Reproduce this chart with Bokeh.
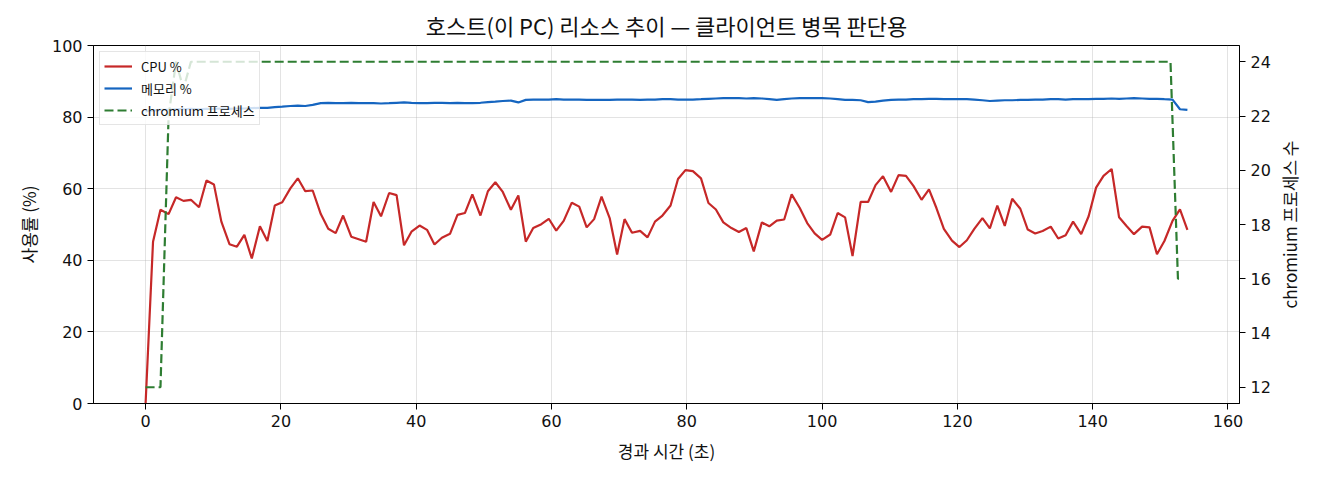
import math

from bokeh.plotting import figure
from bokeh.models import Range1d, LinearAxis, FixedTicker, Label
from bokeh.embed import file_html
from bokeh.resources import INLINE

# elapsed seconds of each host sample
elapsed = [
    0.0, 1.1, 2.2, 3.4, 4.5, 5.6, 6.7, 7.9, 9.0, 10.1, 11.2, 12.4, 13.5, 14.6, 15.7, 16.9,
    18.0, 19.1, 20.2, 21.4, 22.5, 23.6, 24.7, 25.9, 27.0, 28.1, 29.2, 30.4, 31.5, 32.6, 33.7,
    34.8, 36.0, 37.1, 38.2, 39.3, 40.5, 41.6, 42.7, 43.8, 45.0, 46.1, 47.2, 48.3, 49.5, 50.6,
    51.7, 52.8, 54.0, 55.1, 56.2, 57.3, 58.5, 59.6, 60.7, 61.8, 63.0, 64.1, 65.2, 66.3, 67.4,
    68.6, 69.7, 70.8, 71.9, 73.1, 74.2, 75.3, 76.4, 77.6, 78.7, 79.8, 80.9, 82.1, 83.2, 84.3,
    85.4, 86.6, 87.7, 88.8, 89.9, 91.1, 92.2, 93.3, 94.4, 95.5, 96.7, 97.8, 98.9, 100.0, 101.2,
    102.3, 103.4, 104.5, 105.7, 106.8, 107.9, 109.0, 110.2, 111.3, 112.4, 113.5, 114.7, 115.8,
    116.9, 118.0, 119.2, 120.3, 121.4, 122.5, 123.7, 124.8, 125.9, 127.0, 128.1, 129.3, 130.4,
    131.5, 132.6, 133.8, 134.9, 136.0, 137.1, 138.3, 139.4, 140.5, 141.6, 142.8, 143.9, 145.0,
    146.1, 147.3, 148.4, 149.5, 150.6, 151.8, 152.9, 154.0,
]

cpu_pct = [
    0.0, 45.2, 54.1, 52.9, 57.6, 56.6, 56.9, 54.8, 62.3, 61.2, 50.8, 44.5, 43.8, 47.1, 40.5, 49.5,
    45.4, 55.3, 56.2, 60.1, 62.9, 59.3, 59.5, 52.9, 48.8, 47.6, 52.5, 46.6, 45.9, 45.2, 56.3,
    52.3, 58.8, 58.2, 44.2, 48.0, 49.7, 48.5, 44.4, 46.3, 47.4, 52.7, 53.2, 58.4, 52.5, 59.3,
    61.8, 59.1, 54.1, 58.1, 45.2, 49.0, 50.1, 51.6, 48.3, 51.0, 56.1, 55.0, 49.2, 51.5,
    57.8, 51.8, 41.6, 51.5, 47.7, 48.2, 46.4, 50.8, 52.5, 55.3, 62.7, 65.2, 64.9, 62.9, 56.0,
    54.2, 50.6, 49.0, 47.9, 49.0, 42.5, 50.6, 49.5, 51.1, 51.4, 58.4, 54.6, 50.4, 47.5,
    45.7, 47.2, 53.2, 52.0, 41.2, 56.3, 56.3, 61.0, 63.5, 59.1, 63.8, 63.6, 60.8, 56.9, 59.8,
    54.6, 48.8, 45.5, 43.7, 45.6, 48.8, 51.8, 48.9, 55.3, 49.6, 57.2, 54.4, 48.6, 47.5,
    48.2, 49.4, 46.1, 47.0, 50.8, 47.3, 52.3, 60.3, 63.6, 65.5, 52.0, 49.6, 47.3, 49.4, 49.2,
    41.7, 45.4, 51.0, 54.2, 48.5,
]

mem_pct = [
    81.6, 81.9, 82.0, 82.1, 82.2, 82.2, 82.3, 82.2, 82.3, 82.3, 82.4, 82.3, 82.4, 82.4, 82.5,
    82.6, 82.6, 82.8, 82.9, 83.1, 83.2, 83.1, 83.4, 83.9,
    84.0, 83.9, 83.9, 84.0, 83.9, 83.9, 83.9, 83.8, 83.9, 84.0, 84.1, 84.0, 83.9, 83.9, 84.0,
    84.0, 83.9, 84.0, 83.9, 83.9, 84.0,
    84.2, 84.3, 84.5, 84.6, 84.1,
    84.8, 84.9, 84.9, 84.9, 85.0, 84.9, 84.9, 84.9, 84.8, 84.8,
    84.8, 84.8, 84.9, 84.9, 84.9, 84.8, 84.9, 84.9, 85.0, 85.0, 84.9, 84.9, 84.9, 85.0,
    85.1, 85.2, 85.3, 85.3, 85.3, 85.2, 85.3,
    85.2, 85.0, 84.8, 85.0, 85.2, 85.3, 85.3, 85.3,
    85.3, 85.2, 85.0, 84.8, 84.8, 84.7, 84.2, 84.3, 84.6,
    84.8, 84.9, 84.9, 85.0, 85.0, 85.1, 85.1, 85.0,
    85.0, 85.0, 85.0, 84.9, 84.7, 84.5, 84.6, 84.7, 84.7, 84.8, 84.8, 84.9,
    84.9, 85.0, 85.0, 84.9, 85.0, 85.0, 85.0, 85.1, 85.1, 85.2, 85.1, 85.2,
    85.3, 85.2, 85.1, 85.1, 85.0, 84.9, 82.2, 82.0,
]

# chromium process count (its own timestamps)
chrome_t = [0.0, 2.2, 3.4, 4.5, 5.6, 6.7, 151.5, 152.6, 153.1]
chrome_n = [12, 12, 22, 24, 23, 24, 24, 16, 16]

x_ticks = [0, 20, 40, 60, 80, 100, 120, 140, 160]
pct_ticks = [0, 20, 40, 60, 80, 100]
proc_ticks = [12, 14, 16, 18, 20, 22, 24]

FONT = "Noto Sans CJK KR"
NUM_FONT = "DejaVu Sans"
FRAME_W, FRAME_H = 1146, 358

p = figure(
    frame_width=FRAME_W,
    frame_height=FRAME_H,
    min_border_left=93,
    min_border_right=65,
    min_border_top=45,
    min_border_bottom=61,
    x_range=Range1d(-7.7, 161.7),
    y_range=Range1d(0, 100),
    title="호스트(이 PC) 리소스 추이 — 클라이언트 병목 판단용",
    output_backend="svg",
    toolbar_location=None,
)
p.extra_y_ranges = {"proc": Range1d(11.4, 24.6)}

p.title.align = "center"
p.title.text_font = FONT
p.title.text_font_size = "22px"
p.title.text_font_style = "normal"
p.title.text_color = "#111111"

p.outline_line_color = "black"
p.outline_line_width = 1
p.xgrid.grid_line_color = "#b0b0b0"
p.ygrid.grid_line_color = "#b0b0b0"
p.xgrid.grid_line_alpha = 0.35
p.ygrid.grid_line_alpha = 0.35

p.xaxis.ticker = FixedTicker(ticks=x_ticks)
p.yaxis.ticker = FixedTicker(ticks=pct_ticks)
p.xaxis.axis_label = "경과 시간 (초)"
p.yaxis.axis_label = "사용률 (%)"

right = LinearAxis(y_range_name="proc", ticker=FixedTicker(ticks=proc_ticks))
p.add_layout(right, "right")

for ax in p.axis:
    ax.axis_line_color = "black"
    ax.major_tick_line_color = "black"
    ax.major_tick_out = 6
    ax.major_tick_in = 0
    ax.minor_tick_out = 0
    ax.minor_tick_in = 0
    ax.major_label_text_font = NUM_FONT
    ax.major_label_text_font_size = "16px"
    ax.major_label_text_color = "#111111"
    ax.major_label_standoff = 5
    ax.axis_label_text_font = FONT
    ax.axis_label_text_font_size = "17px"
    ax.axis_label_text_font_style = "normal"
    ax.axis_label_text_color = "#111111"
    ax.axis_label_standoff = 8

# right-hand label in its own side panel, reading bottom-to-top like the left one
p.add_layout(Label(
    x=16, y=FRAME_H / 2, x_units="screen", y_units="screen",
    text="chromium 프로세스 수", angle=math.pi / 2,
    text_align="center", text_baseline="middle",
    text_font=FONT, text_font_size="17px", text_color="#111111",
), "right")

p.line(elapsed, cpu_pct, color="#c62828", line_width=2.2, legend_label="CPU %")
p.line(elapsed, mem_pct, color="#1565c0", line_width=2.2, legend_label="메모리 %")
p.line(chrome_t, chrome_n, color="#2e7d32", line_width=2.2, line_dash="9 4",
       y_range_name="proc", legend_label="chromium 프로세스")

p.legend.location = "top_left"
p.legend.margin = 6
p.legend.padding = 4
p.legend.spacing = 2
p.legend.glyph_width = 28
p.legend.glyph_height = 20
p.legend.label_height = 20
p.legend.label_standoff = 9
p.legend.label_text_font = FONT
p.legend.label_text_font_size = "13px"
p.legend.label_text_color = "#111111"
p.legend.background_fill_alpha = 0.8
p.legend.border_line_color = "#cccccc"

open("out.html", "w").write(file_html(p, INLINE))
